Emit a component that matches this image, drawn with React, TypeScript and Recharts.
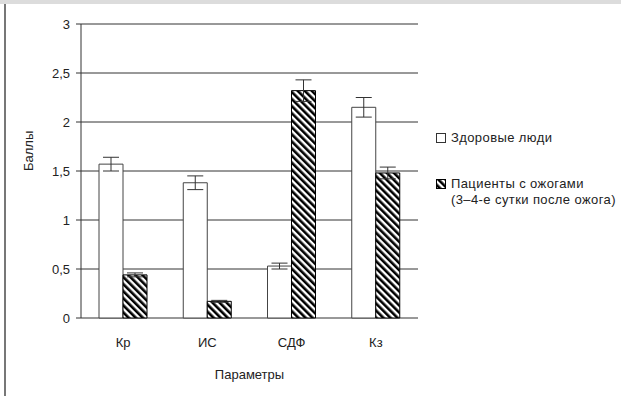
import {
    BarChart,
    Bar,
    XAxis,
    YAxis,
    CartesianGrid,
    ErrorBar,
    ReferenceLine,
} from 'recharts';

const categories = ['Кр', 'ИС', 'СДФ', 'Кз'];
const healthy = [1.57, 1.38, 0.53, 2.15];
const healthyErr = [0.07, 0.07, 0.03, 0.1];
const burns = [0.44, 0.17, 2.32, 1.48];
const burnsErr = [0.02, 0.01, 0.11, 0.06];
const yTicks = [0, 0.5, 1, 1.5, 2, 2.5, 3];
const boundaryTicks = [0, 1, 2, 3, 4];

const data = categories.map((name, i) => ({
    name,
    healthy: healthy[i],
    healthyErr: healthyErr[i],
    burns: burns[i],
    burnsErr: burnsErr[i],
}));

const FONT = '"Liberation Sans", Arial, sans-serif';
const TEXT = '#222';
const FS = 13;

const HatchIcon = () => (
    <svg width={10} height={10} style={{ marginRight: 5, flexShrink: 0 }}>
        <defs>
            <pattern id="hatchIcon" patternUnits="userSpaceOnUse" width={5} height={5} patternTransform="rotate(-45)">
                <rect x={0} y={0} width={2.6} height={5} fill="#000" />
            </pattern>
        </defs>
        <rect x={0.5} y={0.5} width={9} height={9} fill="url(#hatchIcon)" stroke="#000" />
    </svg>
);

const ChartLegend = () => (
    <div
        style={{
            position: 'absolute',
            left: 436,
            top: 130,
            fontFamily: FONT,
            fontSize: FS,
            color: TEXT,
            lineHeight: '16px',
            whiteSpace: 'nowrap',
            letterSpacing: 0.4,
        }}
    >
        <div style={{ display: 'flex', alignItems: 'center' }}>
            <svg width={10} height={10} style={{ marginRight: 5 }}>
                <rect x={0.5} y={0.5} width={9} height={9} fill="#fff" stroke="#333" />
            </svg>
            <span>Здоровые люди</span>
        </div>
        <div style={{ marginTop: 30 }}>
            <div style={{ display: 'flex', alignItems: 'center' }}>
                <HatchIcon />
                <span>Пациенты с ожогами</span>
            </div>
            <div style={{ paddingLeft: 15 }}>(3–4-е сутки после ожога)</div>
        </div>
    </div>
);

export default function App() {
    return (
        <div
            style={{
                position: 'fixed',
                left: 0,
                top: 0,
                width: 621,
                height: 396,
                background: '#fff',
                overflow: 'hidden',
            }}
        >
            <div style={{ position: 'absolute', left: 0, top: 0, width: 621, height: 4, background: '#dcdcdc' }} />
            <div style={{ position: 'absolute', left: 4, top: 4, width: 1.5, height: 392, background: '#777' }} />
            <BarChart
                width={621}
                height={396}
                data={data}
                margin={{ top: 24, right: 203, bottom: 0, left: 5 }}
                barGap={0}
                barSize={24}
            >
                <defs>
                    <pattern id="hatch" patternUnits="userSpaceOnUse" width={5} height={5} patternTransform="rotate(-45)">
                        <rect x={0} y={0} width={5} height={5} fill="#fff" />
                        <rect x={0} y={0} width={2.6} height={5} fill="#000" />
                    </pattern>
                </defs>
                <CartesianGrid vertical={false} stroke="#333" strokeWidth={1} />
                <XAxis
                    dataKey="name"
                    xAxisId="cat"
                    tickLine={false}
                    axisLine={false}
                    tick={{ fill: TEXT, fontSize: FS, fontFamily: FONT }}
                    tickMargin={14}
                    label={{
                        value: 'Параметры',
                        position: 'insideBottom',
                        offset: 17,
                        fill: TEXT,
                        fontSize: FS,
                        fontFamily: FONT,
                    }}
                    height={78}
                />
                <XAxis
                    xAxisId="b"
                    type="number"
                    domain={[0, 4]}
                    ticks={boundaryTicks}
                    tick={false}
                    tickSize={5}
                    stroke="#333"
                    height={0}
                />
                <YAxis
                    domain={[0, 3]}
                    ticks={yTicks}
                    width={76}
                    tickSize={5}
                    tickMargin={6}
                    stroke="#333"
                    tick={{ fill: TEXT, fontSize: FS, fontFamily: FONT }}
                    tickFormatter={(v: number) => String(v).replace('.', ',')}
                    label={{
                        value: 'Баллы',
                        angle: -90,
                        position: 'insideLeft',
                        offset: 23,
                        fill: TEXT,
                        fontSize: FS,
                        fontFamily: FONT,
                    }}
                />
                <ReferenceLine xAxisId="b" x={4} stroke="#888" />
                <Bar xAxisId="cat" dataKey="healthy" fill="#fff" stroke="#444" strokeWidth={1} isAnimationActive={false}>
                    <ErrorBar dataKey="healthyErr" width={8} stroke="#333" strokeWidth={1} />
                </Bar>
                <Bar xAxisId="cat" dataKey="burns" fill="url(#hatch)" stroke="#000" strokeWidth={1} isAnimationActive={false}>
                    <ErrorBar dataKey="burnsErr" width={8} stroke="#333" strokeWidth={1} />
                </Bar>
            </BarChart>
            <ChartLegend />
        </div>
    );
}
